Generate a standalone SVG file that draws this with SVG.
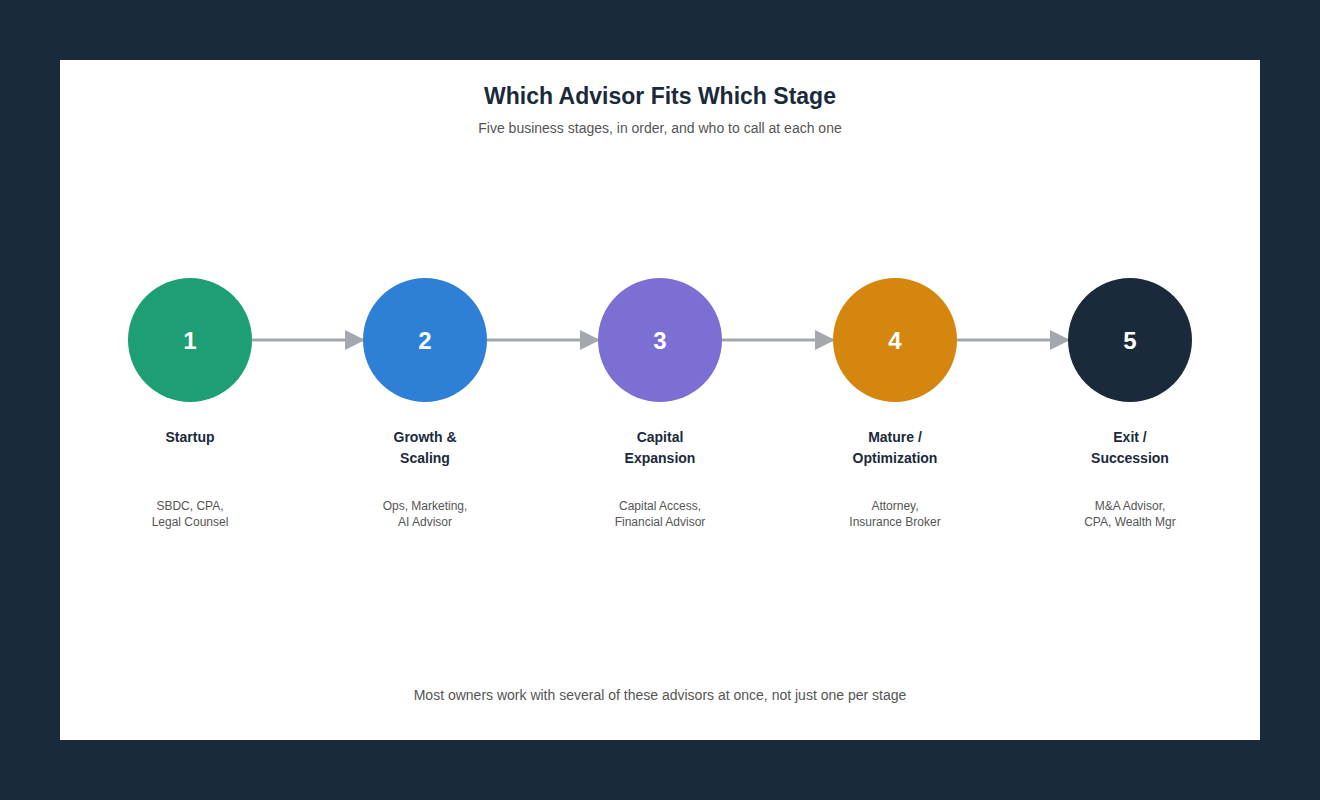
<svg xmlns="http://www.w3.org/2000/svg" width="1320" height="800" viewBox="0 0 1320 800">
<style>
text{font-family:"Liberation Sans",Arial,sans-serif;text-anchor:middle}
.num{font-size:24px;font-weight:bold;fill:#fff}
.lbl{font-size:14px;font-weight:bold;fill:#1b2a3a}
.sub{font-size:12px;fill:#555}
.conn{stroke:#a3a8ae;stroke-width:3;fill:none;marker-end:url(#ah)}
</style>
<defs><marker id="ah" markerWidth="20" markerHeight="20" refX="18" refY="10" orient="auto" markerUnits="userSpaceOnUse"><path d="M0,0 L20,10 L0,20 z" fill="#a3a8ae"/></marker></defs>
<rect width="1320" height="800" fill="#1b2a3a"/>
<rect x="60" y="60" width="1200" height="680" fill="#fff"/>
<text x="660" y="104" style="font-size:23px;font-weight:bold;fill:#1b2a3a">Which Advisor Fits Which Stage</text>
<text x="660" y="133" style="font-size:14px;fill:#555">Five business stages, in order, and who to call at each one</text>
<g id="connectors">
<line class="conn" x1="252" y1="340" x2="363" y2="340"/>
<line class="conn" x1="487" y1="340" x2="598" y2="340"/>
<line class="conn" x1="722" y1="340" x2="833" y2="340"/>
<line class="conn" x1="957" y1="340" x2="1068" y2="340"/>
</g>
<g id="n1"><circle cx="190" cy="340" r="62" fill="#1e9e74"/><text class="num" x="190" y="349">1</text><text class="lbl" x="190" y="442">Startup</text><text class="sub" x="190" y="510">SBDC, CPA,</text><text class="sub" x="190" y="526">Legal Counsel</text></g>
<g id="n2"><circle cx="425" cy="340" r="62" fill="#2e7fd6"/><text class="num" x="425" y="349">2</text><text class="lbl" x="425" y="442">Growth &amp;</text><text class="lbl" x="425" y="463">Scaling</text><text class="sub" x="425" y="510">Ops, Marketing,</text><text class="sub" x="425" y="526">AI Advisor</text></g>
<g id="n3"><circle cx="660" cy="340" r="62" fill="#7b6fd4"/><text class="num" x="660" y="349">3</text><text class="lbl" x="660" y="442">Capital</text><text class="lbl" x="660" y="463">Expansion</text><text class="sub" x="660" y="510">Capital Access,</text><text class="sub" x="660" y="526">Financial Advisor</text></g>
<g id="n4"><circle cx="895" cy="340" r="62" fill="#d4860f"/><text class="num" x="895" y="349">4</text><text class="lbl" x="895" y="442">Mature /</text><text class="lbl" x="895" y="463">Optimization</text><text class="sub" x="895" y="510">Attorney,</text><text class="sub" x="895" y="526">Insurance Broker</text></g>
<g id="n5"><circle cx="1130" cy="340" r="62" fill="#1b2a3a"/><text class="num" x="1130" y="349">5</text><text class="lbl" x="1130" y="442">Exit /</text><text class="lbl" x="1130" y="463">Succession</text><text class="sub" x="1130" y="510">M&amp;A Advisor,</text><text class="sub" x="1130" y="526">CPA, Wealth Mgr</text></g>
<text x="660" y="700" style="font-size:14px;fill:#555">Most owners work with several of these advisors at once, not just one per stage</text>
</svg>
